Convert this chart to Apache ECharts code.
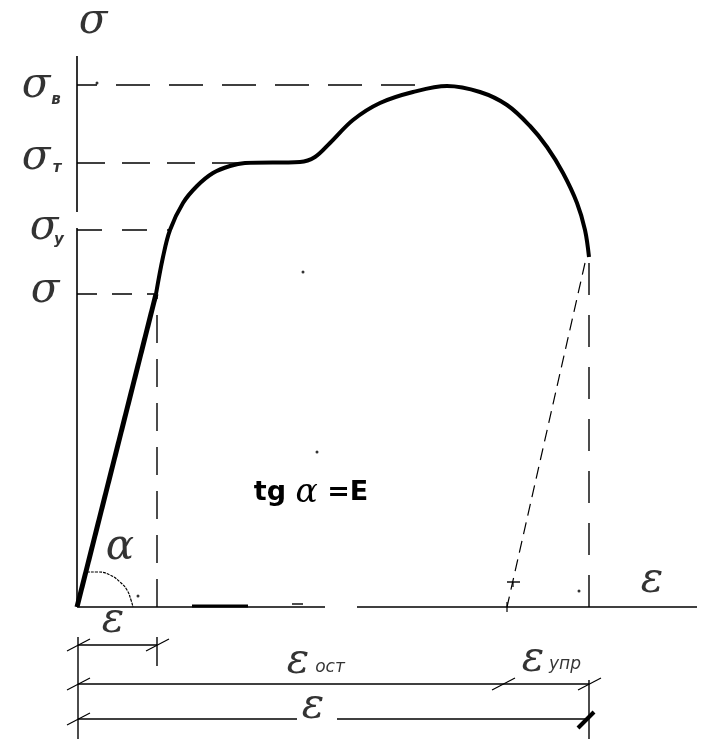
<!DOCTYPE html>
<html>
<head>
<meta charset="utf-8">
<script src="https://cdn.jsdelivr.net/npm/echarts@6/dist/echarts.min.js"></script>
</head>
<body style="margin:0;background:#fff">
<div id="main" style="width:702px;height:739px"></div>
<script>
// strain along x, stress along y, drawing units, origin where the axes cross
var elasticPart = [[0, 0], [79, 313]];
var curve = [[79, 313], [86, 350], [93, 377], [106, 404], [120, 421], [136, 434], [153, 441],
  [168, 444], [223, 445], [238, 450], [253, 464], [276, 487], [303, 504], [336, 515],
  [370, 521], [403, 515], [430, 502], [453, 481], [470, 460], [486, 434],
  [500, 404], [508, 377], [512, 350]];
var unload = [[508, 344], [430, 0]];
var alphaArc = [[10, 35], [21, 35], [33, 32], [43, 25], [50, 17], [54, 7], [56, 0]];
// stray pen marks of the scan
var specks = [[20, 524], [226, 335], [240, 155], [61, 11], [502, 16]];

// stress levels: σ (proportional), σу, σт, σв and where their guide meets the curve
var levelValues = [313, 377, 444, 522];
var levelEnds = [78, 93, 166, 343];

// strains on the axis
var epsProp = 80;
var epsResidual = 430;
var epsTotal = 512;
var axisLen = 620, axisTop = 551;

// annotation anchors (axis units)
var notes = [
  ['σ', 16, 585, 'big'],
  ['σ', -41, 521, 'big'], ['в', -21, 507, 'sub'],
  ['σ', -41, 449, 'big'], ['т', -20, 439, 'sub'],
  ['σ', -33, 379, 'big'], ['у', -18, 367, 'sub'],
  ['σ', -32, 316, 'big'],
  ['ε', 575, 26, 'big'],
  ['ε', 36, -14, 'big'],
  ['ε', 221, -55, 'big'], ['ост', 253, -61, 'subi'],
  ['ε', 456, -53, 'big'], ['упр', 488, -58, 'subi'],
  ['ε', 236, -100, 'big'],
  ['α', 43, 59, 'big']
];
var formula = [234, 114];

var dom = document.getElementById('main');
var myChart = echarts.init(dom);

function seg(data, width, dash) {
  return {
    type: 'line', data: data, symbol: 'none', silent: true, animation: false,
    lineStyle: { color: '#000', width: width, type: dash || 'solid' }
  };
}
function slash(x, y, w) {
  return seg([[x - 11, y - 6], [x + 12, y + 6]], w || 1.2);
}

var series = [];
// axes
series.push(seg([[0, 0], [0, 379]], 1.6));
series.push(seg([[0, 395], [0, axisTop]], 1.6));
series.push(seg([[0, 0], [248, 0]], 1.6));
series.push(seg([[280, 0], [axisLen, 0]], 1.6));
series.push(seg([[115, 1], [171, 1]], 3));
series.push(seg([[215, 3], [226, 3]], 1.4));

// stress level guides
var dashes = [[20, 15], [25, 20], [28, 17], [34, 19]];
levelValues.forEach(function (v, i) {
  var s = seg([[0, v], [levelEnds[i], v]], 1.4, dashes[i]);
  if (i === 3) s.lineStyle.dashOffset = 14;
  series.push(s);
});
// strain guides
series.push(seg([[epsProp, 0], [epsProp, levelValues[0]]], 1.4, [28, 16]));
series.push(seg([[epsTotal, 0], [epsTotal, curve[curve.length - 1][1]]], 1.4, [32, 20]));
series.push(seg(unload, 1.2, [12, 7]));
series.push(seg([[epsResidual, -5], [epsResidual, 5]], 1.2));
series.push(seg([[epsResidual, 25], [epsResidual + 13, 25]], 1.4));
series.push(seg([[epsResidual + 6, 25], [epsResidual + 6, 20]], 1.2));

// the diagram itself
series.push(seg(elasticPart, 5));
var c = seg(curve, 4);
c.smooth = 0.35;
series.push(c);
var a = seg(alphaArc, 1.2, [3, 1]);
a.smooth = true;
series.push(a);

// dimension lines under the axis
var rows = [-38, -77, -112];
series.push(seg([[1, -30], [1, -132]], 1.4));
series.push(seg([[epsProp, -30], [epsProp, -59]], 1.4));
series.push(seg([[epsTotal, -73], [epsTotal, -132]], 1.4));
series.push(seg([[1, rows[0]], [epsProp, rows[0]]], 1.4));
series.push(seg([[1, rows[1]], [epsTotal, rows[1]]], 1.4));
series.push(seg([[1, rows[2]], [220, rows[2]]], 1.4));
series.push(seg([[260, rows[2]], [epsTotal, rows[2]]], 1.4));
series.push(slash(1, rows[0]), slash(epsProp, rows[0]));
series.push(slash(1, rows[1]), slash(epsResidual - 4, rows[1]), slash(epsTotal, rows[1]));
series.push(slash(1, rows[2]));
series.push(seg([[501, -121], [517, -105]], 4));

series.push({
  type: 'scatter', silent: true, animation: false, symbolSize: 3,
  itemStyle: { color: '#000' }, data: specks
});

// labels
var styles = {
  big: { fontFamily: 'DejaVu Serif', fontStyle: 'italic', fontSize: 42 },
  sub: { fontFamily: 'DejaVu Sans', fontStyle: 'italic', fontWeight: 'bold', fontSize: 15 },
  subi: { fontFamily: 'DejaVu Sans', fontStyle: 'italic', fontSize: 17 }
};
Object.keys(styles).forEach(function (k) {
  series.push({
    type: 'scatter', silent: true, animation: false, symbolSize: 1,
    itemStyle: { color: 'transparent' },
    data: notes.filter(function (n) { return n[3] === k; }).map(function (n) {
      return { value: [n[1], n[2]], name: n[0] };
    }),
    label: Object.assign({
      show: true, position: 'inside', color: '#000',
      formatter: function (p) { return p.name; }
    }, styles[k])
  });
});
series.push({
  type: 'scatter', silent: true, animation: false, symbolSize: 1,
  itemStyle: { color: 'transparent' },
  data: [{ value: formula, name: 'tg' }],
  label: {
    show: true, position: 'inside', color: '#000', opacity: 1,
    formatter: '{t|tg }{a|α}{e| =E}',
    rich: {
      t: { color: '#000', fontFamily: 'DejaVu Sans', fontWeight: 700, fontSize: 27 },
      a: { color: '#000', fontFamily: 'DejaVu Serif', fontStyle: 'italic', fontSize: 33 },
      e: { color: '#000', fontFamily: 'DejaVu Sans', fontWeight: 700, fontSize: 27 }
    }
  }
});

option = {
  backgroundColor: '#ffffff',
  grid: { left: 0, right: 0, top: 0, bottom: 0 },
  xAxis: { type: 'value', min: -77, max: 625, show: false },
  yAxis: { type: 'value', min: -132, max: 607, show: false },
  series: series
};
myChart.setOption(option);
</script>
</body>
</html>
